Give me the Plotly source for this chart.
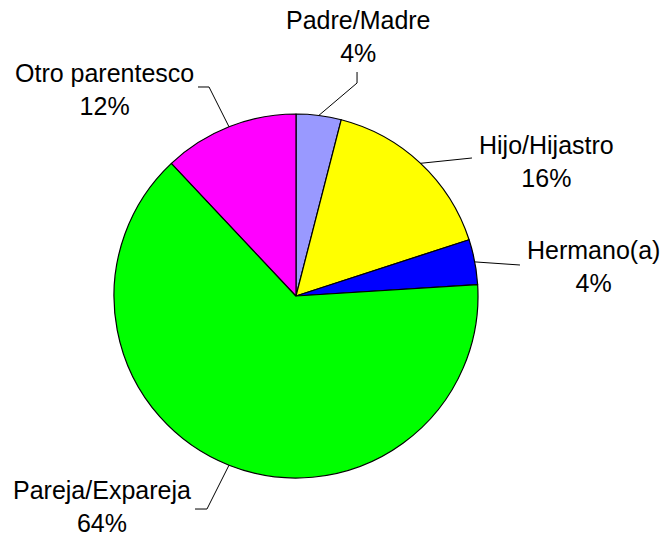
import math

import plotly.graph_objects as go

labels = ["Padre/Madre", "Hijo/Hijastro", "Hermano(a)", "Pareja/Expareja", "Otro parentesco"]
values = [4, 16, 4, 64, 12]
colors = ["#9999FF", "#FFFF00", "#0000FF", "#00FF00", "#FF00FF"]

W, H = 664, 537
CX, CY, R = 296, 296, 182

# label text centre (px) and leader-line elbow points (px) per slice
label_pos = [(358, 37), (546, 161), (593, 266), (102, 506), (104, 89)]
elbows = [
    [(357, 83), (357, 72)],
    [(472, 158)],
    [(520, 265)],
    [(207, 509), (195, 509)],
    [(209, 87), (198, 87)],
]


def px(x, y):
    return x / W, 1 - y / H


fig = go.Figure()
fig.add_trace(
    go.Pie(
        labels=labels,
        values=values,
        sort=False,
        direction="clockwise",
        rotation=0,
        textinfo="none",
        hoverinfo="label+percent",
        marker=dict(colors=colors, line=dict(color="black", width=1.2)),
        domain=dict(
            x=[(CX - R) / W, (CX + R) / W],
            y=[1 - (CY + R) / H, 1 - (CY - R) / H],
        ),
        showlegend=False,
    )
)

total = sum(values)
shapes = []
annotations = []
cum = 0
for lab, v, pos, elb in zip(labels, values, label_pos, elbows):
    mid = (cum + v / 2) / total * 2 * math.pi
    cum += v
    ex, ey = CX + R * math.sin(mid), CY - R * math.cos(mid)
    pts = [px(ex, ey)] + [px(x, y) for x, y in elb]
    path = "M " + " L ".join(f"{x:.4f},{y:.4f}" for x, y in pts)
    shapes.append(
        dict(type="path", path=path, xref="paper", yref="paper",
             line=dict(color="black", width=1))
    )
    pct = round(v / total * 100)
    ax, ay = px(*pos)
    annotations.append(
        dict(
            x=ax, y=ay, xref="paper", yref="paper",
            text=f"{lab}<br>{pct}%", showarrow=False,
            xanchor="center", yanchor="middle", align="center",
            font=dict(family="Liberation Sans, Arial", size=25, color="black"),
        )
    )

fig.update_layout(
    width=W,
    height=H,
    margin=dict(l=0, r=0, t=0, b=0),
    paper_bgcolor="white",
    plot_bgcolor="white",
    shapes=shapes,
    annotations=annotations,
)

# drop the browser's default 8px body margin so the figure fills the window
fig.write_html(
    "out.html",
    config={"displayModeBar": False},
    post_script="document.body.style.margin='0';",
)
